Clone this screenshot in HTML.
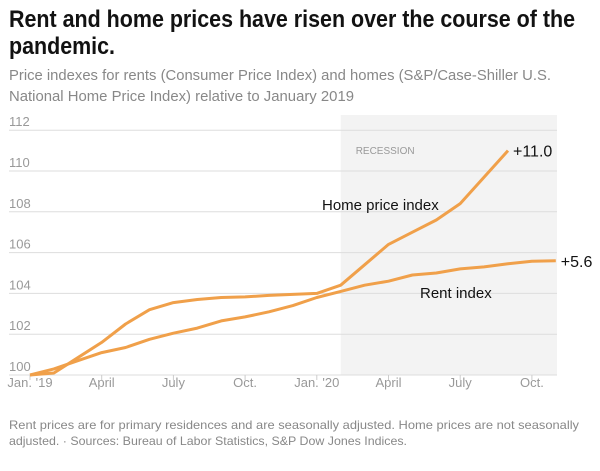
<!DOCTYPE html>
<html><head><meta charset="utf-8"><style>
html,body{margin:0;padding:0;background:#fff;width:600px;height:471px;overflow:hidden}
svg{display:block;font-family:"Liberation Sans Narrow","Liberation Sans",sans-serif}
</style></head><body>
<svg id="chart" width="600" height="471" viewBox="0 0 600 471">
<text x="9" y="27" font-size="24" font-weight="bold" fill="#121212" textLength="566" lengthAdjust="spacingAndGlyphs">Rent and home prices have risen over the course of the</text>
<text x="9" y="54" font-size="24" font-weight="bold" fill="#121212" textLength="106" lengthAdjust="spacingAndGlyphs">pandemic.</text>
<text x="9" y="80" font-size="15" fill="#888" textLength="542" lengthAdjust="spacingAndGlyphs">Price indexes for rents (Consumer Price Index) and homes (S&amp;P/Case-Shiller U.S.</text>
<text x="9" y="101" font-size="15" fill="#888" textLength="345" lengthAdjust="spacingAndGlyphs">National Home Price Index) relative to January 2019</text>
<g id="plot"></g>
<text x="9" y="429" font-size="12" fill="#888" textLength="570" lengthAdjust="spacingAndGlyphs">Rent prices are for primary residences and are seasonally adjusted. Home prices are not seasonally</text>
<text x="9" y="445" font-size="12" fill="#888" textLength="398" lengthAdjust="spacingAndGlyphs">adjusted. · Sources: Bureau of Labor Statistics, S&amp;P Dow Jones Indices.</text>
</svg>
<script>
const homeValues = [100,100.1,100.85,101.6,102.5,103.2,103.55,103.7,103.8,103.83,103.9,103.95,104.0,104.4,105.4,106.4,107.0,107.6,108.4,109.7,111.0];
const rentValues = [100,100.3,100.7,101.1,101.35,101.75,102.05,102.3,102.65,102.85,103.1,103.4,103.8,104.1,104.4,104.6,104.9,105.0,105.2,105.3,105.45,105.58,105.6];
const yTicks = [100,102,104,106,108,110,112];
const xTickLabels = ["Jan. '19","April","July","Oct.","Jan. '20","April","July","Oct."];
const xTickMonths = [0,3,6,9,12,15,18,21];
const recessionStart = 13;

const NS="http://www.w3.org/2000/svg";
const g=document.getElementById('plot');
const x0=30, mw=23.9, yb=375, pu=20.4, xR=557, xL=9;
const xs=m=>x0+m*mw;
const ys=v=>yb-(v-100)*pu;
function mk(t,a,txt){const e=document.createElementNS(NS,t);for(const k in a)e.setAttribute(k,a[k]);if(txt!=null)e.textContent=txt;g.appendChild(e);return e;}

const rec=mk('rect',{x:xs(recessionStart),y:115,width:xR-xs(recessionStart),height:ys(100)-115,fill:'#f3f3f3'});


const rl=mk('text',{x:xs(recessionStart)+15,y:154,'font-size':10,fill:'#999','font-family':'Liberation Sans, sans-serif'},'RECESSION');



yTicks.forEach(v=>{
  const l=mk('line',{x1:xL,x2:xR,y1:ys(v),y2:ys(v),stroke:'#ddd','stroke-width':1});
  
  
  const t=mk('text',{x:xL,y:ys(v)-4,'font-size':13,fill:'#999'},String(v));
  
  
});
xTickMonths.forEach((m,i)=>{
  const l=mk('line',{x1:xs(m),x2:xs(m),y1:ys(100),y2:ys(100)+5,stroke:'#ccc'});
  
  
  const t=mk('text',{x:xs(m),y:ys(100)+12,'font-size':13,fill:'#999','text-anchor':'middle'},xTickLabels[i]);
  
  
});
function line(vals,name){
  const d=vals.map((v,i)=>(i?'L':'M')+xs(i).toFixed(1)+','+ys(v).toFixed(1)).join('');
  const p=mk('path',{d:d,fill:'none',stroke:'#f0a04a','stroke-width':3,'stroke-linejoin':'round'});
  
  
}
line(rentValues,'rent-index-line');
line(homeValues,'home-price-line');

const hl=homeValues.length-1, rl2=rentValues.length-1;
const a=mk('text',{x:xs(hl)+5,y:ys(homeValues[hl])+6,'font-size':16,fill:'#121212','font-family':'Liberation Sans, sans-serif'},'+'+(homeValues[hl]-100).toFixed(1));


const b=mk('text',{x:xs(rl2)+5,y:ys(rentValues[rl2])+6,'font-size':16,fill:'#121212','font-family':'Liberation Sans, sans-serif'},'+'+(rentValues[rl2]-100).toFixed(1));


const c=mk('text',{x:322,y:210,'font-size':15,fill:'#121212'},'Home price index');


const d=mk('text',{x:420,y:298,'font-size':15,fill:'#121212'},'Rent index');


</script>
</body></html>
